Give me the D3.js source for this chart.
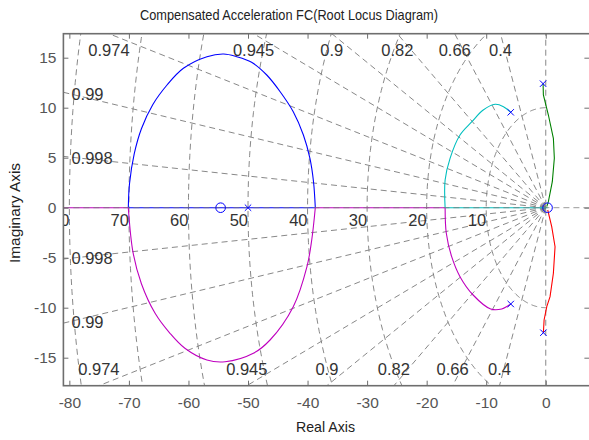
<!DOCTYPE html>
<html><head><meta charset="utf-8">
<script src="https://cdn.jsdelivr.net/npm/d3@7"></script>
<style>
body{margin:0;background:#fff}
svg text{font-family:"Liberation Sans",Arial,sans-serif}
</style></head><body>
<svg id="c" width="589" height="440"></svg>
<script>
// ---- data ----
const xTicks=[-80,-70,-60,-50,-40,-30,-20,-10,0];
const yTicks=[-15,-10,-5,0,5,10,15];
const dampingEdge=[0.4,0.66,0.82,0.9,0.945,0.974];   // labels on top/bottom edges
const dampingEdgeLine=[0.4,0.66,0.82,0.9,0.9425,0.973]; // line positions
const dampingLeft=[0.99,0.998];                      // labels on left edge
const freqValues=[10,20,30,40,50,60,70,80];
const poles=[[-50,0],[-5.88,9.54],[-5.88,-9.63],[-0.45,12.4],[-0.4,-12.5]];
const zerosPts=[[-54.6,0],[0.3,0]];
const blueUpper=[[-38.7,0],[-39.0,2.6],[-39.6,4.94],[-40.7,7.27],[-42.4,9.6],[-44.6,11.6],[-46.85,13.27],[-49.4,14.54],[-51.9,15.1],[-54.1,15.37],[-56.9,15.1],[-60.85,13.94],[-63.6,12.27],[-66.0,10.3],[-67.9,7.9],[-69.1,5.4],[-69.9,2.4],[-70.1,0]];
const magentaLower=[[-38.7,0],[-39.3,-3.23],[-40.1,-5.9],[-42.4,-9.9],[-46.3,-13.23],[-49.1,-14.56],[-53.85,-15.4],[-56.9,-15.23],[-60.6,-14.06],[-63.1,-12.56],[-65.6,-10.56],[-67.9,-7.6],[-69.3,-4.5],[-70.1,0]];
const cyanUpper=[[-5.88,9.54],[-7.1,10.1],[-8.5,10.34],[-10.5,9.77],[-12.4,8.6],[-14.4,7.27],[-16.07,4.94],[-16.9,2.77],[-16.9,0]];
const magentaLower2=[[-5.88,-9.63],[-7.4,-10.13],[-9.24,-10.13],[-12.2,-8.73],[-14.4,-6.9],[-15.8,-4.9],[-16.7,-2.56],[-16.9,0]];
const greenBranch=[[-0.45,12.4],[-0.4,11.27],[0.44,9.27],[1.28,6.94],[1.44,4.94],[1.1,2.6],[0.44,0.6],[0.17,0.1]];
const redBranch=[[-0.4,-12.5],[-0.28,-11.23],[0.17,-9.9],[0.72,-8.9],[1.28,-6.56],[1.56,-3.9],[1.0,-1.9],[0.33,-0.23]];
const realMagenta=[[[-81,0],[-70.1,0]],[[-38.7,0],[-16.9,0]]];
const realBlue=[[-70.1,0],[-38.7,0]];
const realCyan=[[-16.9,0],[0.3,0]];

// ---- chart ----
const svg=d3.select('#c');
svg.append('rect').attr('width',589).attr('height',440).attr('fill','#fff');
const x=d3.scaleLinear().domain([-81,8]).range([63.4,593.4]);
const y=d3.scaleLinear().domain([-17.8,17.4]).range([385.7,33.7]);
const L=x.range()[0],R=x.range()[1],T=y.range()[1],B=y.range()[0];
const [xmin,xmax]=x.domain(),[ymin,ymax]=y.domain();

svg.append('clipPath').attr('id','clip').append('rect')
  .attr('x',L).attr('y',T).attr('width',R-L).attr('height',B-T);
const plot=svg.append('g').attr('clip-path','url(#clip)');
const grid=plot.append('g').attr('fill','none').attr('stroke','#7a7a7a')
  .attr('stroke-width',0.9).attr('stroke-dasharray','6,4');
const line=d3.line().x(d=>x(d[0])).y(d=>y(d[1]));
const smooth=d3.line().x(d=>x(d[0])).y(d=>y(d[1])).curve(d3.curveCatmullRom.alpha(0.5));

// damping lines
const allZeta=[...dampingEdgeLine,...dampingLeft];
allZeta.forEach(z=>{
  const s=Math.sqrt(1-z*z), Rr=200;
  [1,-1].forEach(sg=>grid.append('path').attr('d',line([[0,0],[-Rr*z,sg*Rr*s]])));
});
grid.append('path').attr('d',line([[0,ymin],[0,ymax]]));
freqValues.forEach(w=>{
  const pts=d3.range(0,181).map(i=>{const a=Math.PI/2+i*Math.PI/180;return [w*Math.cos(a),w*Math.sin(a)];});
  grid.append('path').attr('d',line(pts));
});

// loci
const loci=plot.append('g').attr('fill','none').attr('stroke-width',1.1);
realMagenta.forEach(s=>loci.append('path').attr('d',line(s)).attr('stroke','#bf00bf'));
loci.append('path').attr('d',line(realBlue)).attr('stroke','#0000ff');
loci.append('path').attr('d',line(realCyan)).attr('stroke','#00bfbf');
loci.append('path').attr('d',smooth(blueUpper)).attr('stroke','#0000ff');
loci.append('path').attr('d',smooth(magentaLower)).attr('stroke','#bf00bf');
loci.append('path').attr('d',smooth(cyanUpper)).attr('stroke','#00bfbf');
loci.append('path').attr('d',smooth(magentaLower2)).attr('stroke','#bf00bf');
loci.append('path').attr('d',line(greenBranch)).attr('stroke','#008000');
loci.append('path').attr('d',line(redBranch)).attr('stroke','#ff0000');

plot.append('path').attr('d',line([[xmin,0],[xmax,0]])).attr('fill','none')
  .attr('stroke','#7a7a7a').attr('stroke-opacity',0.75).attr('stroke-width',1).attr('stroke-dasharray','6,4');

// markers
const mk=plot.append('g').attr('stroke','#0000ff').attr('fill','none').attr('stroke-width',1);
poles.forEach(p=>{
  const cx=x(p[0]),cy=y(p[1]),r=3.2;
  mk.append('path').attr('d',`M${cx-r},${cy-r}L${cx+r},${cy+r}M${cx-r},${cy+r}L${cx+r},${cy-r}`);
});
zerosPts.forEach(p=>mk.append('circle').attr('cx',x(p[0])).attr('cy',y(p[1])).attr('r',4.8));

// grid labels
const gl=plot.append('g').attr('fill','#333').style('font-size','16.5px');
dampingEdge.forEach((z,i)=>{
  const zl=dampingEdgeLine[i], c=zl/Math.sqrt(1-zl*zl);
  gl.append('text').attr('x',x(-ymax*c)).attr('y',T+22).attr('text-anchor','middle').text(String(z));
  gl.append('text').attr('x',x(ymin*c)).attr('y',B-10.7).attr('text-anchor','middle').text(String(z));
});
dampingLeft.forEach(z=>{
  const t=Math.sqrt(1-z*z)/z;
  const yy=-xmin*t;
  gl.append('text').attr('x',L+8).attr('y',y(yy)+8).text(String(z));
  gl.append('text').attr('x',L+8).attr('y',y(-yy)+5).text(String(z));
});
freqValues.forEach(w=>{
  gl.append('text').attr('x',x(-w)).attr('y',y(0)+18).attr('text-anchor','end').text(String(w));
});

// axes
const axCol='#6e6e6e';
const fmt=d=>String(d);
const gB=svg.append('g').attr('transform',`translate(0,${B})`)
  .call(d3.axisBottom(x).tickValues(xTicks).tickSizeInner(-5).tickSizeOuter(0).tickPadding(11).tickFormat(fmt));
const gT=svg.append('g').attr('transform',`translate(0,${T})`)
  .call(d3.axisTop(x).tickValues(xTicks).tickSizeInner(-5).tickSizeOuter(0).tickFormat(''));
const gL=svg.append('g').attr('transform',`translate(${L},0)`)
  .call(d3.axisLeft(y).tickValues(yTicks).tickSizeInner(-5).tickSizeOuter(0).tickPadding(7).tickFormat(fmt));
const gR=svg.append('g').attr('transform',`translate(${R-4},0)`)
  .call(d3.axisRight(y).tickValues(yTicks).tickSizeInner(-5).tickSizeOuter(0).tickFormat(''));
[gB,gT,gL,gR].forEach(g=>{
  g.select('.domain').remove();
  g.selectAll('line').attr('stroke',axCol);
  g.selectAll('text').attr('fill','#555').style('font-size','15.5px').style('font-family','"Liberation Sans",Arial,sans-serif');
});
svg.append('rect').attr('x',L).attr('y',T).attr('width',R-L).attr('height',B-T)
  .attr('fill','none').attr('stroke',axCol).attr('stroke-width',1.6);

// titles
const tf='"Liberation Sans",Arial,sans-serif';
svg.append('text').attr('x',140).attr('y',20).attr('textLength',298).attr('lengthAdjust','spacingAndGlyphs')
  .attr('fill','#222').style('font-size','15px').style('font-family',tf)
  .text('Compensated Acceleration FC(Root Locus Diagram)');
svg.append('text').attr('x',296).attr('y',432).attr('textLength',59).attr('lengthAdjust','spacingAndGlyphs')
  .attr('fill','#222').style('font-size','15px').style('font-family',tf)
  .text('Real Axis');
svg.append('text').attr('transform',`translate(20,263) rotate(-90)`).attr('textLength',100).attr('lengthAdjust','spacingAndGlyphs')
  .attr('fill','#222').style('font-size','15px').style('font-family',tf)
  .text('Imaginary Axis');
</script></body></html>
